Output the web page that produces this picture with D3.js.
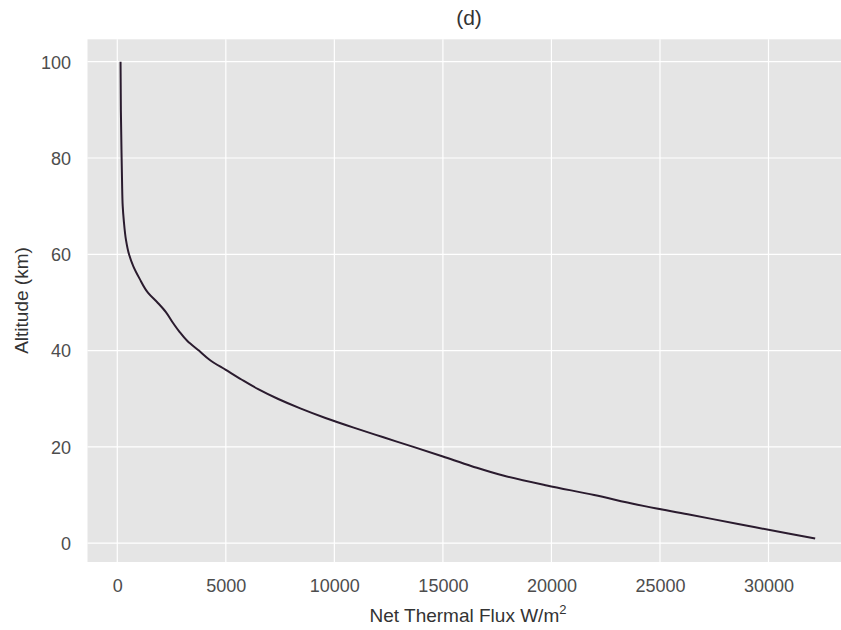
<!DOCTYPE html>
<html><head><meta charset="utf-8">
<script src="https://cdn.jsdelivr.net/npm/d3@7"></script>
<style>body{margin:0;background:#fff}text{font-family:"Liberation Sans",Arial,sans-serif}</style>
</head><body>
<svg id="c" width="841" height="630"></svg>
<script>
const altitude = [100, 90, 80, 75, 70, 67, 63, 60, 57.5, 55, 52, 50, 48, 46, 44, 42, 40, 38, 36, 34, 32, 30, 28, 26, 24, 22, 20, 18, 16, 14, 12, 10, 8, 6, 4, 2, 1];
const flux = [150, 165, 200, 220, 250, 300, 400, 540, 740, 1020, 1420, 1850, 2240, 2530, 2850, 3230, 3760, 4280, 5000, 5720, 6490, 7390, 8430, 9590, 10890, 12260, 13640, 15000, 16330, 17820, 19790, 21970, 23970, 26280, 28600, 30910, 32150];
const xTicks = [0, 5000, 10000, 15000, 20000, 25000, 30000];
const yTicks = [0, 20, 40, 60, 80, 100];
const title = "(d)";
const xLabel = "Net Thermal Flux W/m";
const yLabel = "Altitude (km)";

const svg = d3.select("#c");
const L = 87.5, R = 851, T = 39.3, B = 562;
const x = d3.scaleLinear().domain([-1372, 33800]).range([L, R]);
const y = d3.scaleLinear().domain([-3.9, 104.65]).range([B, T]);

svg.append("rect").attr("x", L).attr("y", T).attr("width", R - L).attr("height", B - T).attr("fill", "#e5e5e5");

const g = svg.append("g");
g.selectAll(".vg").data(xTicks).join("line")
  .attr("x1", d => x(d)).attr("x2", d => x(d)).attr("y1", T).attr("y2", B)
  .attr("stroke", "#fff").attr("stroke-width", 1.2);
g.selectAll(".hg").data(yTicks).join("line")
  .attr("y1", d => y(d)).attr("y2", d => y(d)).attr("x1", L).attr("x2", R)
  .attr("stroke", "#fff").attr("stroke-width", 1.2);

const xAxis = svg.append("g").attr("transform", `translate(0,${B})`)
  .call(d3.axisBottom(x).tickValues(xTicks).tickSize(0).tickPadding(0).tickFormat(d3.format("d")));
xAxis.select(".domain").remove();
xAxis.selectAll("text").attr("y", 29.5).attr("dy", 0).attr("font-size", 18).attr("fill", "#4d4d4d");

const yAxis = svg.append("g").attr("transform", `translate(${L},0)`)
  .call(d3.axisLeft(y).tickValues(yTicks).tickSize(0).tickPadding(0).tickFormat(d3.format("d")));
yAxis.select(".domain").remove();
yAxis.selectAll("text").attr("x", -16.5).attr("dy", "0.35em").attr("font-size", 18).attr("fill", "#4d4d4d");

const pts = altitude.map((a, i) => [flux[i], a]);
const line = d3.line().x(d => x(d[0])).y(d => y(d[1])).curve(d3.curveMonotoneY);
svg.append("path").datum(pts).attr("d", line).attr("fill", "none")
  .attr("stroke", "#2a1b2e").attr("stroke-width", 2).attr("stroke-linejoin", "round");

svg.append("text").attr("x", 469).attr("y", 25).attr("text-anchor", "middle")
  .attr("font-size", 21).attr("fill", "#333").text(title);

const xl = svg.append("text").attr("x", 468).attr("y", 621.7).attr("text-anchor", "middle")
  .attr("font-size", 19).attr("fill", "#333");
xl.append("tspan").text(xLabel);
xl.append("tspan").attr("dy", -8).attr("font-size", 13).text("2");

svg.append("text").attr("transform", "translate(27.5,300.5) rotate(-90)").attr("text-anchor", "middle")
  .attr("font-size", 19).attr("fill", "#333").text(yLabel);
</script>
</body></html>
